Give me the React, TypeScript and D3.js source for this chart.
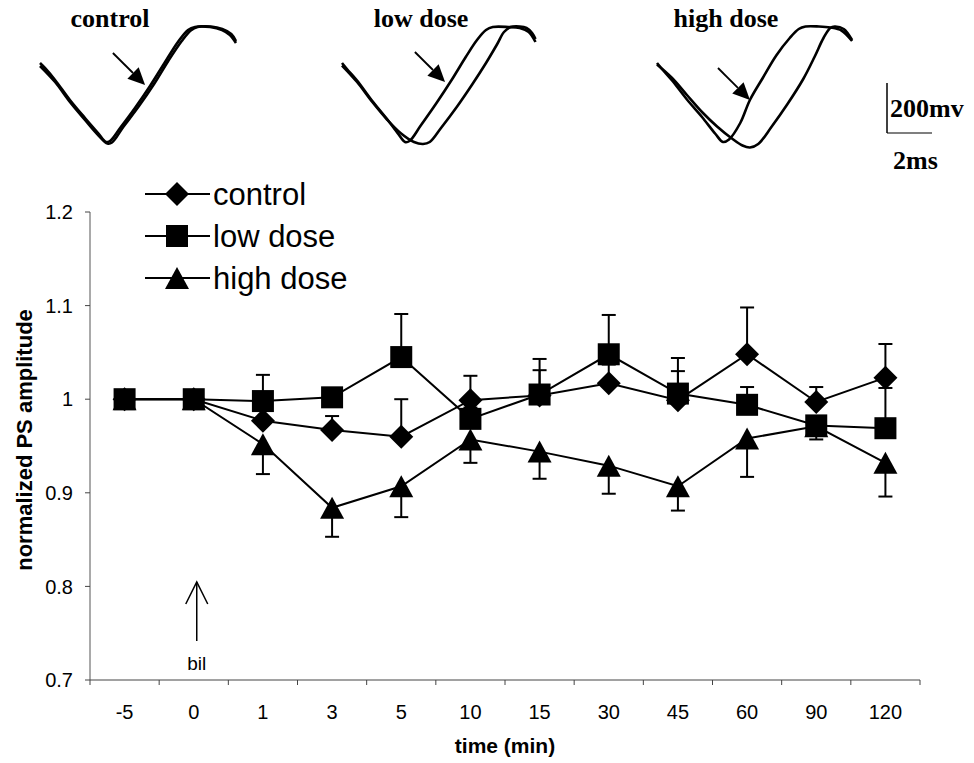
import React from "react";
import * as d3 from "d3";

// ---------- main chart data ----------
const categories = ["-5", "0", "1", "3", "5", "10", "15", "30", "45", "60", "90", "120"];
const controlMean = [1.0, 1.0, 0.977, 0.967, 0.96, 0.999, 1.004, 1.017, 0.999, 1.048, 0.997, 1.023];
const controlErrUp = [0, 0, 0.012, 0.015, 0.04, 0.026, 0.027, 0.02, 0.031, 0.05, 0.016, 0.036];
const lowMean = [1.0, 1.0, 0.998, 1.002, 1.045, 0.979, 1.005, 1.048, 1.006, 0.994, 0.972, 0.969];
const lowErrUp = [0, 0, 0.028, 0.008, 0.046, 0.012, 0.038, 0.042, 0.038, 0.019, 0.008, 0.043];
const highMean = [1.0, 1.0, 0.952, 0.884, 0.907, 0.957, 0.944, 0.929, 0.907, 0.958, 0.971, 0.932];
const highErrDown = [0, 0, 0.032, 0.031, 0.033, 0.025, 0.029, 0.03, 0.026, 0.041, 0.014, 0.036];
const yTicks = [0.7, 0.8, 0.9, 1.0, 1.1, 1.2];
const yTickLabels = ["0.7", "0.8", "0.9", "1", "1.1", "1.2"];
const legendLabels = ["control", "low dose", "high dose"];

// ---------- inset waveform data: [ms, mV] ----------
const controlBefore = [[0,0],[0.22,-20],[0.67,-68],[1.33,-148],[2.0,-220],[2.58,-280],[2.93,-316],[3.11,-312],[3.56,-260],[4.22,-180],[4.89,-92],[5.56,4],[6.13,84],[6.58,132],[6.89,144],[7.56,144],[8.09,132],[8.44,112],[8.71,80]];
const controlAfter = [[0,-12],[0.67,-76],[1.33,-156],[2.0,-228],[2.58,-288],[3.0,-322],[3.2,-318],[3.7,-256],[4.4,-172],[5.07,-84],[5.7,8],[6.3,88],[6.7,130],[7.0,144],[7.6,146],[8.1,136],[8.5,116],[8.71,88]];
const lowBefore = [[0,0],[0.22,-24],[0.67,-70],[1.33,-150],[2.0,-224],[2.5,-284],[2.8,-316],[3.0,-312],[3.5,-250],[4.2,-160],[4.9,-64],[5.5,24],[6.0,92],[6.4,132],[6.7,144],[7.4,144],[7.9,140],[8.3,124],[8.6,84]];
const lowAfter = [[0,-10],[0.67,-76],[1.33,-154],[2.0,-226],[2.6,-280],[3.2,-316],[3.6,-324],[3.9,-316],[4.4,-260],[5.1,-176],[5.8,-84],[6.4,0],[6.9,76],[7.2,124],[7.5,144],[7.9,146],[8.2,140],[8.45,120],[8.6,96]];
const highBefore = [[0,0],[0.22,-24],[0.67,-70],[1.33,-146],[2.0,-216],[2.6,-284],[2.93,-316],[3.2,-306],[3.7,-240],[4.13,-148],[4.7,-60],[5.3,30],[5.9,100],[6.3,136],[6.6,146],[7.2,146],[7.7,142],[8.2,130],[8.67,88]];
const highAfter = [[0,-6],[0.67,-60],[1.33,-128],[2.0,-196],[2.67,-254],[3.3,-300],[3.8,-330],[4.13,-338],[4.5,-324],[5.1,-254],[5.8,-164],[6.5,-64],[7.0,24],[7.4,100],[7.7,140],[7.9,146],[8.3,136],[8.67,92]];
const insetLabels = ["control", "low dose", "high dose"];
// arrow [tail ms, tail mV, tip ms, tip mV]
const insetArrows = [[3.24, 40, 4.67, -88], [3.24, 44, 4.58, -76], [2.71, -20, 4.13, -148]];
const scaleBarMs = 2;
const scaleBarMv = 200;

const W = 974, H = 763;
const sans = "'Liberation Sans', Arial, sans-serif";
const serif = "'Liberation Serif', 'Times New Roman', serif";

function marker(kind: string, cx: number, cy: number, key?: string) {
  if (kind === "square") {
    const s = 22;
    return <rect key={key} x={cx - s / 2} y={cy - s / 2} width={s} height={s} fill="#000" />;
  }
  if (kind === "diamond") {
    const r = 12;
    return <polygon key={key} points={`${cx},${cy - r} ${cx + r},${cy} ${cx},${cy + r} ${cx - r},${cy}`} fill="#000" />;
  }
  const w = 24, h = 22;
  return <polygon key={key} points={`${cx},${cy - h / 2} ${cx + w / 2},${cy + h / 2} ${cx - w / 2},${cy + h / 2}`} fill="#000" />;
}

export default function App() {
  const x = d3.scaleBand<string>().domain(categories).range([90, 920]).padding(0);
  const cx = (c: string) => (x(c) as number) + x.bandwidth() / 2;
  const y = d3.scaleLinear().domain([0.7, 1.2]).range([680, 212]);

  const series = [
    { kind: "triangle", mean: highMean, err: highErrDown, dir: 1 },
    { kind: "diamond", mean: controlMean, err: controlErrUp, dir: -1 },
    { kind: "square", mean: lowMean, err: lowErrUp, dir: -1 },
  ];

  const line = d3.line<number>().x((_, i) => cx(categories[i])).y((d) => y(d));

  // insets
  const insetOrigins = [40, 342, 657];
  const insetTraces = [[controlBefore, controlAfter], [lowBefore, lowAfter], [highBefore, highAfter]];
  const labelX = [110, 421, 726];
  const tScale = (x0: number) => d3.scaleLinear().domain([0, 1]).range([x0, x0 + 22.5]);
  const vScale = d3.scaleLinear().domain([0, 1]).range([63, 62.75]);

  const bx = 887;
  const sbT = d3.scaleLinear().domain([0, 1]).range([bx, bx + 22.5]);
  const sbV = d3.scaleLinear().domain([0, 1]).range([133, 132.75]);
  const bilX = cx("0") + 3;

  return (
    <svg width={W} height={H} style={{ position: "absolute", left: 0, top: 0, background: "#fff" }}>
      <rect x={0} y={0} width={W} height={H} fill="#fff" />
      {/* insets */}
      {insetOrigins.map((x0, k) => {
        const ts = tScale(x0);
        const tr = d3.line<number[]>().x((d) => ts(d[0])).y((d) => vScale(d[1])).curve(d3.curveCatmullRom);
        const a = insetArrows[k];
        const x1 = ts(a[0]), y1 = vScale(a[1]), x2 = ts(a[2]), y2 = vScale(a[3]);
        const ang = Math.atan2(y2 - y1, x2 - x1);
        const hl = 17, hw = 8;
        const bxh = x2 - hl * Math.cos(ang), byh = y2 - hl * Math.sin(ang);
        const px = -Math.sin(ang) * hw, py = Math.cos(ang) * hw;
        return (
          <g key={k}>
            {insetTraces[k].map((t, j) => (
              <path key={j} d={tr(t) as string} fill="none" stroke="#000" strokeWidth={2.6} />
            ))}
            <line x1={x1} y1={y1} x2={bxh} y2={byh} stroke="#000" strokeWidth={1.8} />
            <polygon points={`${x2},${y2} ${bxh + px},${byh + py} ${bxh - px},${byh - py}`} fill="#000" />
            <text x={labelX[k]} y={27} textAnchor="middle" fontFamily={serif} fontWeight="bold" fontSize={26}>{insetLabels[k]}</text>
          </g>
        );
      })}
      {/* scale bar */}
      <line x1={sbT(0)} y1={sbV(0)} x2={sbT(0)} y2={sbV(scaleBarMv)} stroke="#000" strokeWidth={1.5} />
      <line x1={sbT(0)} y1={sbV(0)} x2={sbT(scaleBarMs)} y2={sbV(0)} stroke="#000" strokeWidth={1.2} />
      <text x={890} y={117} fontFamily={serif} fontWeight="bold" fontSize={26}>{scaleBarMv}mv</text>
      <text x={893} y={169} fontFamily={serif} fontWeight="bold" fontSize={26}>{scaleBarMs}ms</text>

      {/* axes */}
      <line x1={90} y1={y(1.2)} x2={90} y2={680} stroke="#555" strokeWidth={1} />
      <line x1={90} y1={680} x2={920} y2={680} stroke="#444" strokeWidth={1} />
      {yTicks.map((t, i) => (
        <g key={t}>
          <line x1={85} x2={90} y1={y(t)} y2={y(t)} stroke="#444" />
          <text x={73} y={y(t)} dy="0.36em" textAnchor="end" fontFamily={sans} fontSize={20}>{yTickLabels[i]}</text>
        </g>
      ))}
      {[...categories.map((c) => x(c) as number), 920].map((bxv, i) => (
        <line key={i} x1={bxv} x2={bxv} y1={680} y2={685} stroke="#444" />
      ))}
      {categories.map((c) => (
        <text key={c} x={cx(c)} y={719} textAnchor="middle" fontFamily={sans} fontSize={20}>{c}</text>
      ))}
      <text x={505} y={753} textAnchor="middle" fontFamily={sans} fontWeight="bold" fontSize={21}>time (min)</text>
      <text transform={`translate(32,440) rotate(-90)`} textAnchor="middle" fontFamily={sans} fontWeight="bold" fontSize={22}>normalized PS amplitude</text>

      {/* bil arrow */}
      <line x1={bilX} x2={bilX} y1={641} y2={582} stroke="#000" strokeWidth={1.5} />
      <polyline points={`${bilX - 11},${604} ${bilX},${582} ${bilX + 11},${604}`} fill="none" stroke="#000" strokeWidth={1.5} />
      <text x={bilX} y={670} textAnchor="middle" fontFamily={sans} fontSize={19}>bil</text>

      {/* series lines */}
      {series.map((s, k) => (
        <path key={"l" + k} d={line(s.mean) as string} fill="none" stroke="#000" strokeWidth={2} />
      ))}
      {/* error bars and markers */}
      {series.map((s, k) => (
        <g key={"s" + k}>
          {s.mean.map((m, i) => {
            if (!s.err[i]) return null;
            const px = cx(categories[i]);
            const ye = y(m - s.dir * s.err[i]);
            return (
              <g key={i}>
                <line x1={px} x2={px} y1={y(m)} y2={ye} stroke="#000" strokeWidth={2} />
                <line x1={px - 7} x2={px + 7} y1={ye} y2={ye} stroke="#000" strokeWidth={2} />
              </g>
            );
          })}
          {s.mean.map((m, i) => marker(s.kind, cx(categories[i]), y(m), String(i)))}
        </g>
      ))}

      {/* legend */}
      {["diamond", "square", "triangle"].map((kind, i) => {
        const ly = 194 + i * 42;
        return (
          <g key={kind}>
            <line x1={145} x2={210} y1={ly} y2={ly} stroke="#000" strokeWidth={2} />
            {marker(kind, 177, ly)}
            <text x={213} y={ly} dy="0.36em" fontFamily={sans} fontSize={31}>{legendLabels[i]}</text>
          </g>
        );
      })}
    </svg>
  );
}
